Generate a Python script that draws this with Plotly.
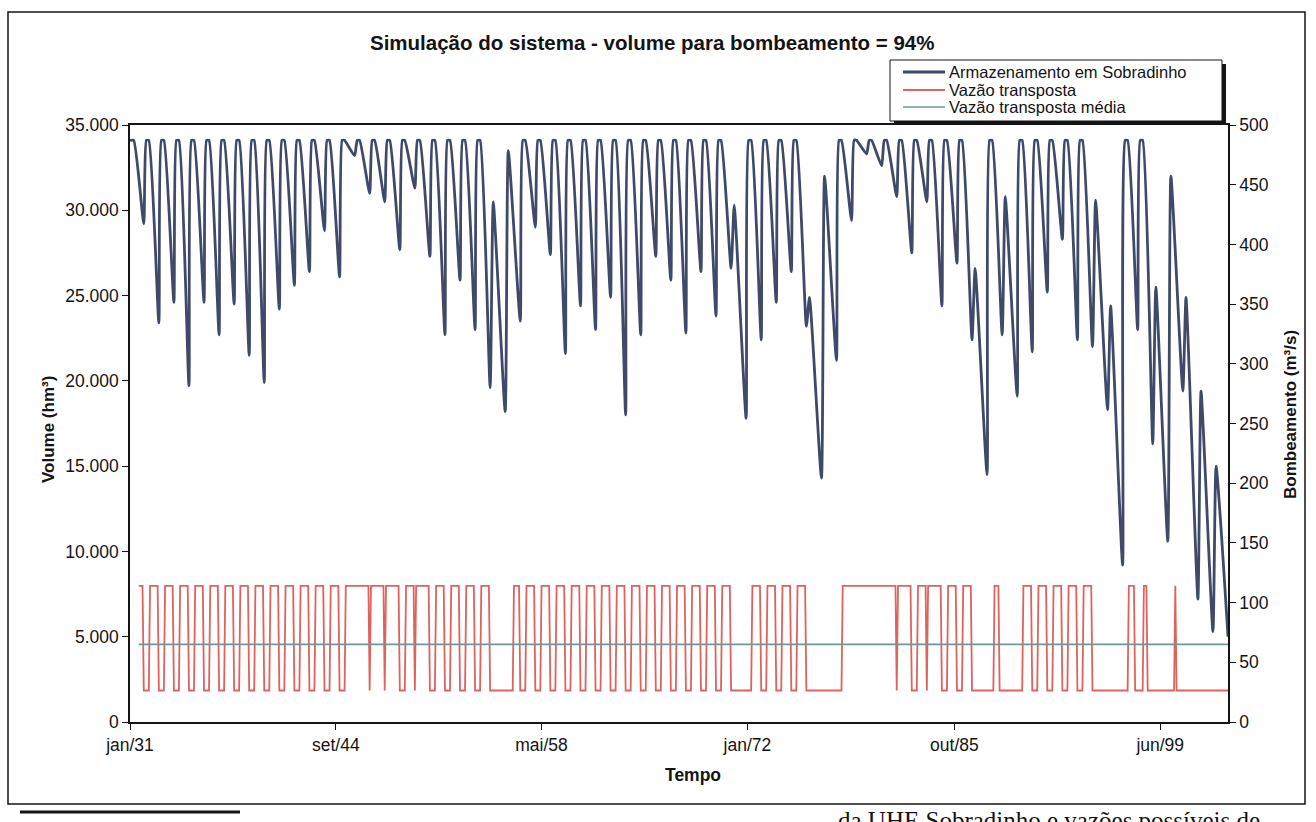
import plotly.graph_objects as go

# ---------------- data ----------------
years = list(range(1931, 2004))

# wet-season peak storage (hm3) reached early in each year
wet_peak = [
    34100, 34100, 34100, 34100, 34100, 34100, 34100, 34100, 34100, 34100,  # 1931-1940
    34100, 34100, 34100, 34100, 34100, 34100, 34100, 34100, 34100, 34100,  # 1941-1950
    34100, 34100, 34100, 34100, 30500, 33500, 34100, 34100, 34100, 34100,  # 1951-1960
    34100, 34100, 34100, 34100, 34100, 34100, 34100, 34100, 34100, 34100,  # 1961-1970
    30300, 34100, 34100, 34100, 34100, 24900, 32000, 34100, 34100, 34100,  # 1971-1980
    34100, 34100, 34100, 34100, 34100, 34100, 26600, 34100, 30800, 34100,  # 1981-1990
    34100, 34100, 34100, 34100, 30600, 24400, 34100, 34100, 25500, 32000,  # 1991-2000
    24900, 19400, 15000,                                                    # 2001-2003
]

# end-of-dry-season minimum storage (hm3) of each year
dry_trough = [
    29200, 23400, 24600, 19700, 24600, 22700, 24500, 21500, 19900, 24200,  # 1931-1940
    25600, 26400, 28800, 26100, 33200, 31000, 30500, 27700, 31300, 27300,  # 1941-1950
    22700, 25900, 23000, 19600, 18200, 23500, 29000, 27400, 21600, 24400,  # 1951-1960
    23000, 24900, 18000, 22700, 27300, 25900, 22800, 26400, 23800, 26600,  # 1961-1970
    17800, 22400, 24600, 26400, 23200, 14300, 21200, 29400, 33300, 32600,  # 1971-1980
    30800, 27500, 30500, 24400, 26900, 22400, 14500, 22700, 19100, 21700,  # 1981-1990
    25200, 28300, 22400, 22000, 18300, 9200, 23000, 16300, 10600, 19400,   # 1991-2000
    7200, 5300, 5000,                                                       # 2001-2003
]

# periods (first month, last month) with pumping at maximum capacity
pump_on = [
    ("1931-08", "1931-11"), ("1932-05", "1932-11"), ("1933-05", "1933-11"),
    ("1934-05", "1934-11"), ("1935-05", "1935-11"), ("1936-05", "1936-11"),
    ("1937-05", "1937-11"), ("1938-05", "1938-11"), ("1939-05", "1939-11"),
    ("1940-05", "1940-11"), ("1941-05", "1941-11"), ("1942-05", "1942-11"),
    ("1943-05", "1943-11"), ("1944-05", "1944-11"), ("1945-05", "1946-11"),
    ("1947-01", "1947-11"), ("1948-01", "1948-11"), ("1949-05", "1949-11"),
    ("1950-01", "1950-11"), ("1951-05", "1951-11"), ("1952-05", "1952-11"),
    ("1953-05", "1953-11"), ("1954-05", "1954-11"), ("1956-07", "1956-11"),
    ("1957-05", "1957-11"), ("1958-05", "1958-11"), ("1959-05", "1959-11"),
    ("1960-05", "1960-11"), ("1961-05", "1961-11"), ("1962-05", "1962-11"),
    ("1963-05", "1963-11"), ("1964-05", "1964-11"), ("1965-05", "1965-11"),
    ("1966-05", "1966-11"), ("1967-05", "1967-11"), ("1968-05", "1968-11"),
    ("1969-05", "1969-11"), ("1970-05", "1970-11"), ("1972-05", "1972-11"),
    ("1973-05", "1973-11"), ("1974-05", "1974-11"), ("1975-05", "1975-11"),
    ("1978-05", "1981-11"), ("1982-01", "1982-11"), ("1983-05", "1983-11"),
    ("1984-01", "1984-11"), ("1985-05", "1985-11"), ("1986-05", "1986-11"),
    ("1988-06", "1988-09"), ("1990-05", "1990-11"), ("1991-05", "1991-11"),
    ("1992-05", "1992-11"), ("1993-05", "1993-11"), ("1994-05", "1994-11"),
    ("1997-05", "1997-09"), ("1998-05", "1998-07"), ("2000-06", "2000-06"),
]
Q_MAX = 114.0     # m3/s
Q_MIN = 26.4      # m3/s
Q_MEAN = 65.0     # m3/s
pump_start = "1931-08"
series_end = "2003-12"

x_tick_dates = ["1931-01-01", "1944-09-01", "1958-05-01", "1972-01-01", "1985-10-01", "1999-06-01"]
x_tick_labels = ["jan/31", "set/44", "mai/58", "jan/72", "out/85", "jun/99"]
y_tick_vals = [0, 5000, 10000, 15000, 20000, 25000, 30000, 35000]
y_tick_labels = ["0", "5.000", "10.000", "15.000", "20.000", "25.000", "30.000", "35.000"]
y2_tick_vals = [0, 50, 100, 150, 200, 250, 300, 350, 400, 450, 500]

# ---------------- build series ----------------
bx, by = [], []
for i, yr in enumerate(years):
    pk, tr = wet_peak[i], dry_trough[i]
    if yr == years[0]:
        bx += [f"{yr}-01-01", f"{yr}-04-01"]
        by += [pk, pk]
    elif pk >= 34000:
        bx += [f"{yr}-02-01", f"{yr}-04-01"]
        by += [pk, pk]
    else:
        bx.append(f"{yr}-02-15")
        by.append(pk)
    bx.append(f"{yr}-12-01")
    by.append(tr)

rx, ry = [], []
yy, mm = int(pump_start[:4]), int(pump_start[5:])
while f"{yy:04d}-{mm:02d}" <= series_end:
    ym = f"{yy:04d}-{mm:02d}"
    on = any(a <= ym <= b for a, b in pump_on)
    rx.append(ym + "-01")
    ry.append(Q_MAX if on else Q_MIN)
    mm += 1
    if mm > 12:
        mm, yy = 1, yy + 1

mx = [pump_start + "-01", series_end + "-01"]
my = [Q_MEAN, Q_MEAN]

# ---------------- figure ----------------
C_BLUE = "#3f4a6b"
C_RED = "#e0625f"
C_MEAN = "#6e9894"
INK = "#141414"
FONT = "Liberation Sans, Arial, sans-serif"

L, R, T, B = 130, 1228, 125, 722
W, H = 1316, 822


def px(p):
    return (p - L) / (R - L)


def py(p):
    return (B - p) / (B - T)


fig = go.Figure()
fig.add_trace(go.Scatter(x=bx, y=by, mode="lines", name="Armazenamento em Sobradinho",
                         line=dict(color=C_BLUE, width=2.8, shape="spline", smoothing=0.5),
                         yaxis="y"))
fig.add_trace(go.Scatter(x=rx, y=ry, mode="lines", name="Vazão transposta",
                         line=dict(color=C_RED, width=1.8), yaxis="y2"))
fig.add_trace(go.Scatter(x=mx, y=my, mode="lines", name="Vazão transposta média",
                         line=dict(color=C_MEAN, width=1.6), yaxis="y2"))

axis_common = dict(showgrid=False, zeroline=False, showline=True, linecolor=INK,
                   linewidth=1.5, ticks="outside", ticklen=6, tickcolor=INK,
                   tickfont=dict(family=FONT, size=17.5, color=INK))

fig.update_layout(
    width=W, height=H,
    margin=dict(l=L, r=W - R, t=T, b=H - B),
    paper_bgcolor="white", plot_bgcolor="white",
    showlegend=False,
    font=dict(family=FONT, size=17.5, color=INK),
    xaxis=dict(type="date", range=["1931-01-01", "2003-12-01"],
               tickvals=x_tick_dates, ticktext=x_tick_labels, mirror=True,
               **axis_common),
    yaxis=dict(range=[0, 35000], tickvals=y_tick_vals, ticktext=y_tick_labels,
               **axis_common),
    yaxis2=dict(range=[0, 500], tickvals=y2_tick_vals, overlaying="y", side="right",
                **axis_common),
)


def note(text, x, y, size, xanchor="center", angle=0, family=FONT, yanchor="middle"):
    return dict(text=text, x=px(x), y=py(y), xref="paper", yref="paper", showarrow=False,
                xanchor=xanchor, yanchor=yanchor, textangle=angle,
                font=dict(family=family, size=size, color=INK))


ann = [
    note("<b>Simulação do sistema - volume para bombeamento = 94%</b>", 652, 42, 20.5),
    note("<b>Volume (hm³)</b>", 48, 430, 17, angle=-90),
    note("<b>Bombeamento (m³/s)</b>", 1290, 415, 17, angle=-90),
    note("<b>Tempo</b>", 693, 775, 17.5),
]

# legend (drawn box with shadow)
leg_items = [("Armazenamento em Sobradinho", C_BLUE, 2.8, 72),
             ("Vazão transposta", C_RED, 1.8, 90),
             ("Vazão transposta média", C_MEAN, 1.6, 107)]
shapes = [
    dict(type="rect", xref="paper", yref="paper", x0=px(894), x1=px(1226), y0=py(64), y1=py(125),
         fillcolor=INK, line=dict(width=0), layer="above"),
    dict(type="rect", xref="paper", yref="paper", x0=px(890), x1=px(1222), y0=py(60), y1=py(121),
         fillcolor="white", line=dict(color=INK, width=1), layer="above"),
]
for label, col, lw, yc in leg_items:
    shapes.append(dict(type="line", xref="paper", yref="paper", x0=px(903), x1=px(945),
                       y0=py(yc), y1=py(yc), line=dict(color=col, width=lw), layer="above"))
    ann.append(note(label, 947, yc, 16.5, xanchor="left"))

# outer chart frame
shapes.append(dict(type="rect", xref="paper", yref="paper", x0=px(8), x1=px(1305),
                   y0=py(12), y1=py(804), line=dict(color=INK, width=1.5), layer="below"))
shapes.append(dict(type="line", xref="paper", yref="paper", x0=px(20), x1=px(240),
                   y0=py(812), y1=py(812), line=dict(color=INK, width=3)))

# cut-off document caption below the chart
ann.append(note("da UHE Sobradinho e vazões possíveis de", 1262, 805, 25, xanchor="right",
                yanchor="top", family="Liberation Serif, Times New Roman, serif"))

fig.update_layout(annotations=ann, shapes=shapes)
fig.write_html("out.html",
               config={"displayModeBar": False},
               post_script="document.body.style.margin='0';document.body.style.overflow='hidden';")
